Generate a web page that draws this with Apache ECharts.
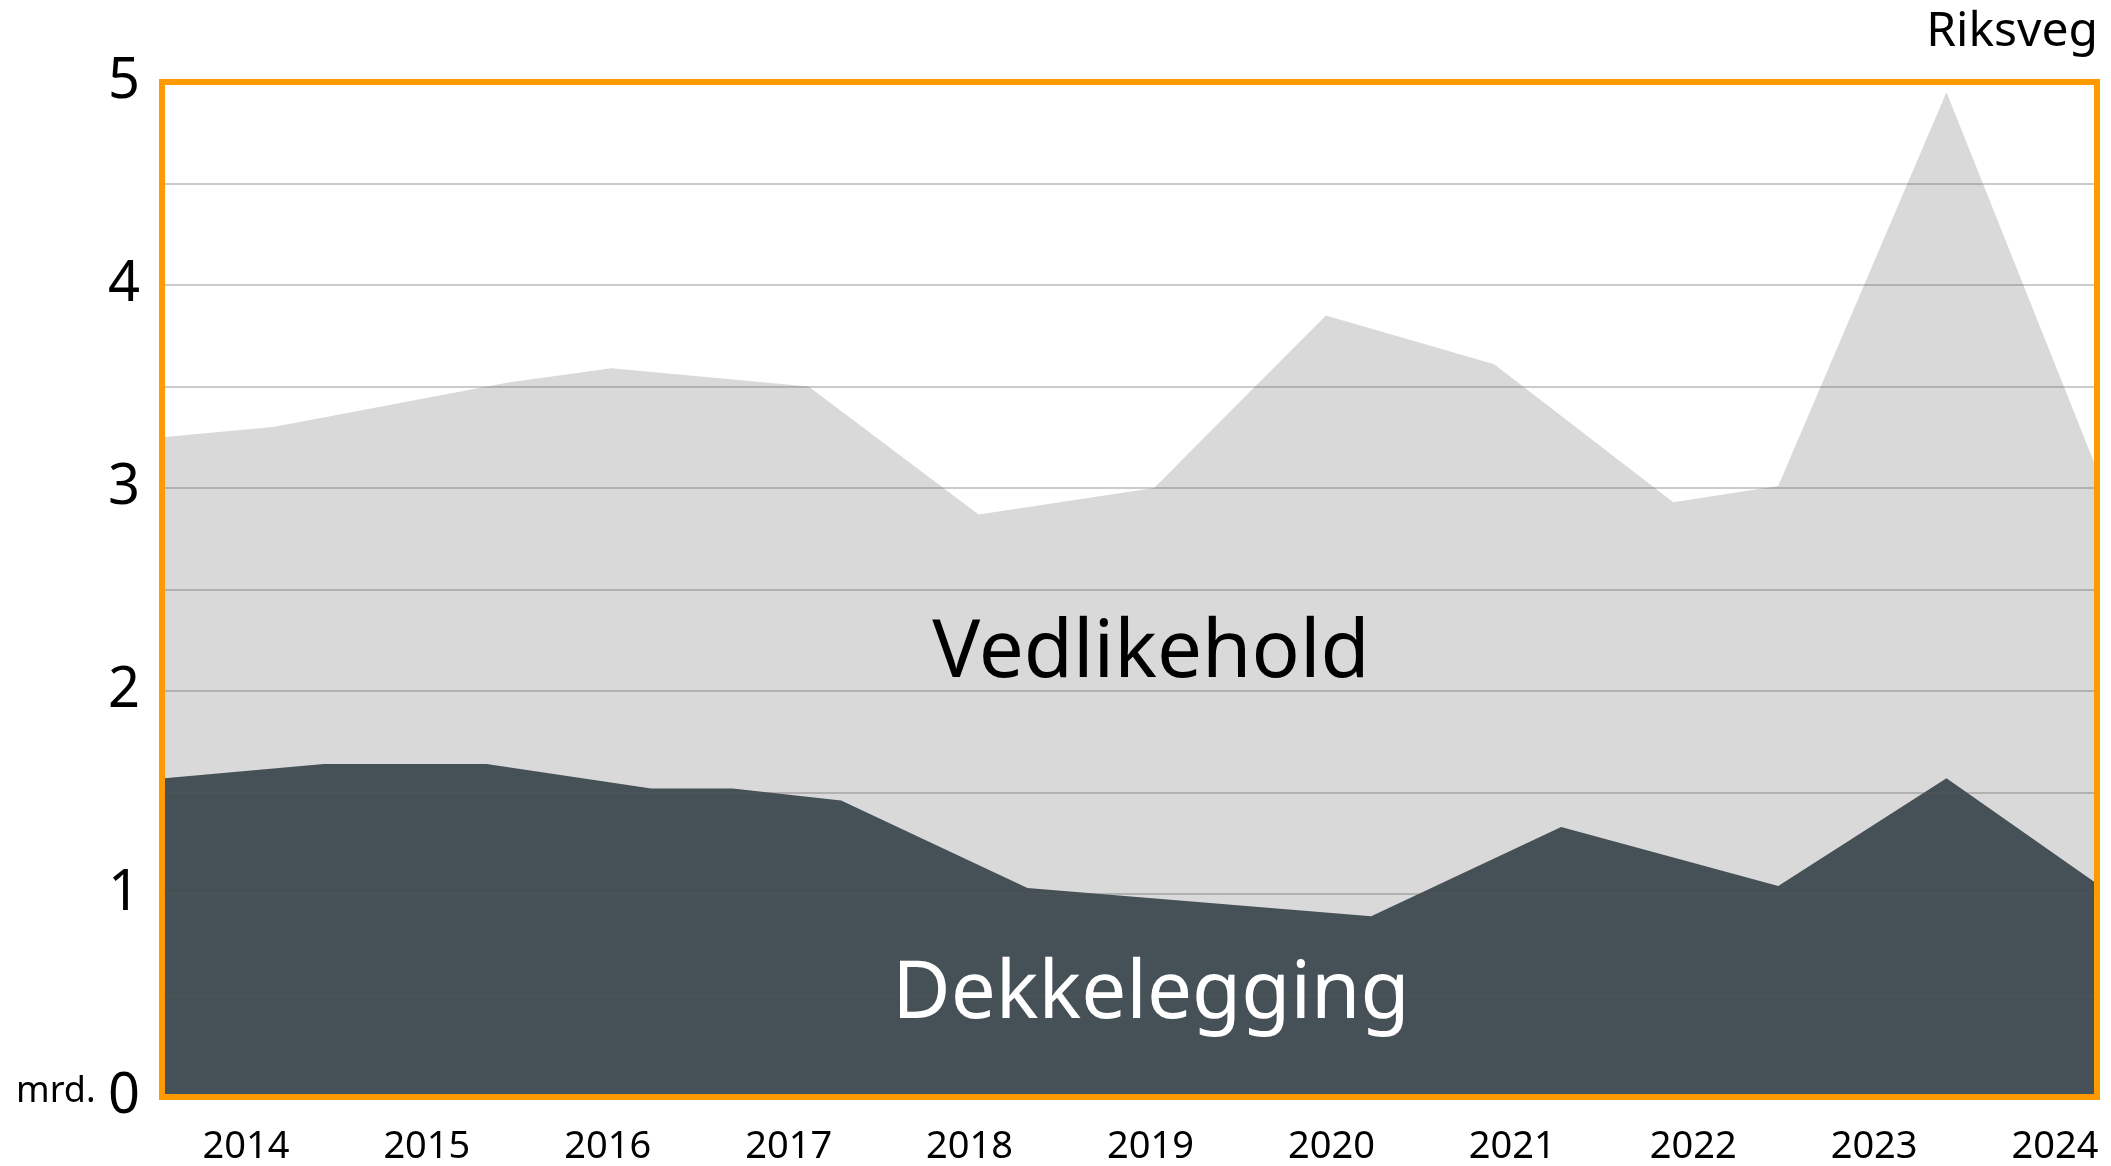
<!DOCTYPE html>
<html><head><meta charset="utf-8">
<script src="https://cdn.jsdelivr.net/npm/echarts@6/dist/echarts.min.js"></script>
<style>html,body{margin:0;padding:0;background:#fff;}#c{width:2111px;height:1166px;}</style>
</head><body><div id="c"></div>
<script>
// x positions expressed in years (fractional), values in mrd. kr
const yearLabels = [2014, 2015, 2016, 2017, 2018, 2019, 2020, 2021, 2022, 2023, 2024];
const xMin = 2013.536, xMax = 2024.232;
const vedlikeholdX = [2013.536, 2014.15, 2015.45, 2016.02, 2017.11, 2018.05, 2019.02, 2019.97, 2020.90, 2021.89, 2022.47, 2023.40, 2024.232];
const vedlikeholdY = [3.25, 3.30, 3.52, 3.59, 3.50, 2.87, 3.00, 3.85, 3.61, 2.93, 3.01, 4.95, 3.09];
const dekkeleggingX = [2013.55, 2014.43, 2015.33, 2016.24, 2016.69, 2017.29, 2018.32, 2020.22, 2021.27, 2022.47, 2023.40, 2024.232];
const dekkeleggingY = [1.57, 1.64, 1.64, 1.52, 1.52, 1.46, 1.03, 0.89, 1.33, 1.04, 1.57, 1.05];
const yMin = 0, yMax = 5, yStep = 0.5;

const FONT = '"Noto Sans", sans-serif';
const chart = echarts.init(document.getElementById('c'), null, {renderer: 'canvas'});
const pairs = (xs, ys) => xs.map((x, i) => [x, ys[i]]);

chart.setOption({
  animation: false,
  backgroundColor: '#ffffff',
  grid: {
    left: 162, right: 14, top: 82, bottom: 69,
    show: true, backgroundColor: 'transparent',
    borderColor: '#ff9a00', borderWidth: 6, z: 10
  },
  xAxis: {
    type: 'value', min: xMin, max: xMax,
    axisLine: {show: false}, axisTick: {show: false}, splitLine: {show: false},
    axisLabel: {
      customValues: yearLabels,
      fontFamily: FONT, fontSize: 38, color: '#000', margin: 31,
      formatter: v => String(Math.round(v))
    }
  },
  yAxis: {
    type: 'value', min: yMin, max: yMax, interval: yStep, z: 5,
    axisLine: {show: false}, axisTick: {show: false},
    splitLine: {show: true, lineStyle: {color: 'rgba(90,90,90,0.42)', width: 1.5}},
    axisLabel: {
      fontFamily: FONT, fontSize: 56, color: '#000', margin: 22,
      formatter: v => Number.isInteger(v) ? String(v) : ''
    }
  },
  series: [
    {
      name: 'Vedlikehold', type: 'line', data: pairs(vedlikeholdX, vedlikeholdY),
      symbol: 'none', lineStyle: {width: 0}, areaStyle: {color: '#d9d9d9', opacity: 1}, z: 1
    },
    {
      name: 'Dekkelegging', type: 'line', data: pairs(dekkeleggingX, dekkeleggingY),
      symbol: 'none', lineStyle: {width: 0}, areaStyle: {color: '#465057', opacity: 1}, z: 2
    }
  ],
  graphic: [
    {type: 'text', x: 2098, y: 32, style: {text: 'Riksveg', font: '48px "Noto Sans"', fill: '#000', align: 'right', verticalAlign: 'middle'}},
    {type: 'text', x: 1151, y: 654, z: 20, style: {text: 'Vedlikehold', font: '80px "Noto Sans"', fill: '#000', align: 'center', verticalAlign: 'middle'}},
    {type: 'text', x: 1151, y: 995, z: 20, style: {text: 'Dekkelegging', font: '80px "Noto Sans"', fill: '#fff', align: 'center', verticalAlign: 'middle'}},
    {type: 'text', x: 16, y: 1092, style: {text: 'mrd.', font: '36px "Noto Sans"', fill: '#000', align: 'left', verticalAlign: 'middle'}}
  ]
});
</script>
</body></html>
